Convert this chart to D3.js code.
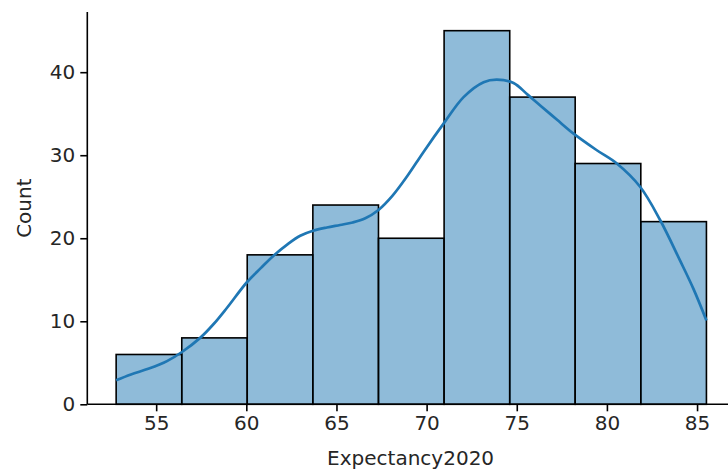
<!DOCTYPE html>
<html>
<head>
<meta charset="utf-8">
<script src="https://cdn.jsdelivr.net/npm/d3@7"></script>
<style>
  html, body { margin: 0; padding: 0; background: #fff; }
  svg { display: block; }
  text { font-family: "DejaVu Sans", sans-serif; }
</style>
</head>
<body>
<svg id="chart" width="728" height="471"></svg>
<script>
// ---- data ----
const binEdges = [52.78, 56.42, 60.05, 63.69, 67.33, 70.97, 74.61, 78.24, 81.88, 85.52];
const counts = [6, 8, 18, 24, 20, 45, 37, 29, 22];
const kdeX = [52.78, 53.6, 54.6, 55.6, 56.43, 57.44, 58.2, 58.92, 60.03, 60.8, 61.51, 62.3, 62.99, 63.7, 64.47, 65.2, 65.9, 66.6, 67.33, 68.1, 68.9, 69.83, 70.94, 72.05, 73.16, 73.9, 74.82, 75.6, 76.3, 77.22, 78.15, 79.44, 80.55, 81.84, 82.95, 84.06, 84.8, 85.52];
const kdeY = [2.9, 3.6, 4.3, 5.2, 6.3, 8.0, 9.7, 11.6, 14.7, 16.4, 17.9, 19.3, 20.3, 20.9, 21.3, 21.6, 21.9, 22.4, 23.4, 25.1, 27.4, 30.4, 33.8, 37.0, 38.8, 39.1, 38.7, 37.3, 36.0, 34.3, 32.6, 30.6, 29.0, 26.2, 22.2, 17.3, 13.9, 10.1];
const xTicks = [55, 60, 65, 70, 75, 80, 85];
const yTicks = [0, 10, 20, 30, 40];
const xLabel = "Expectancy2020";
const yLabel = "Count";

// ---- layout ----
const svg = d3.select("#chart");
const mLeft = 87.3, mRight = 736, mTop = 12, mBottom = 404.3;
const x = d3.scaleLinear().domain([51.18, 87.16]).range([mLeft, mRight]);
const y = d3.scaleLinear().domain([0, 47.25]).range([mBottom, mTop]);

const fontSize = 20;
const textColor = "#262626";

// bars
svg.append("g").selectAll("rect")
  .data(counts)
  .join("rect")
  .attr("x", (d, i) => x(binEdges[i]))
  .attr("width", (d, i) => x(binEdges[i + 1]) - x(binEdges[i]))
  .attr("y", d => y(d))
  .attr("height", d => y(0) - y(d))
  .attr("fill", "rgba(31,119,180,0.5)")
  .attr("stroke", "#000")
  .attr("stroke-width", 1.6);

// kde line
const line = d3.line()
  .x((d, i) => x(kdeX[i]))
  .y(d => y(d))
  .curve(d3.curveCatmullRom.alpha(0.5));
svg.append("path")
  .datum(kdeY)
  .attr("d", line)
  .attr("fill", "none")
  .attr("stroke", "#1f77b4")
  .attr("stroke-width", 2.7)
  .attr("stroke-linecap", "butt");

// axes
const xAxis = d3.axisBottom(x).tickValues(xTicks).tickSize(7).tickPadding(5).tickFormat(d3.format("d"));
const gx = svg.append("g").attr("transform", `translate(0,${mBottom})`).call(xAxis);
const yAxis = d3.axisLeft(y).tickValues(yTicks).tickSize(7).tickPadding(5).tickFormat(d3.format("d"));
const gy = svg.append("g").attr("transform", `translate(${mLeft},0)`).call(yAxis);

[gx, gy].forEach(g => {
  g.select(".domain").attr("stroke", "#000").attr("stroke-width", 1.6);
  g.selectAll(".tick line").attr("stroke", "#000").attr("stroke-width", 1.6);
  g.selectAll(".tick text").attr("font-size", fontSize).attr("fill", textColor)
    .attr("font-family", "DejaVu Sans, sans-serif");
});
gx.select(".domain").attr("d", `M${mLeft},0H${mRight}`);
gy.select(".domain").attr("d", `M0,${mBottom}V${mTop}`);

// labels
svg.append("text")
  .attr("x", (x(55) + x(85)) / 2 - 16)
  .attr("y", 465)
  .attr("text-anchor", "middle")
  .attr("font-size", fontSize)
  .attr("fill", textColor)
  .text(xLabel);

svg.append("text")
  .attr("transform", `translate(31,${(mTop + mBottom) / 2}) rotate(-90)`)
  .attr("text-anchor", "middle")
  .attr("font-size", fontSize)
  .attr("fill", textColor)
  .text(yLabel);
</script>
</body>
</html>
